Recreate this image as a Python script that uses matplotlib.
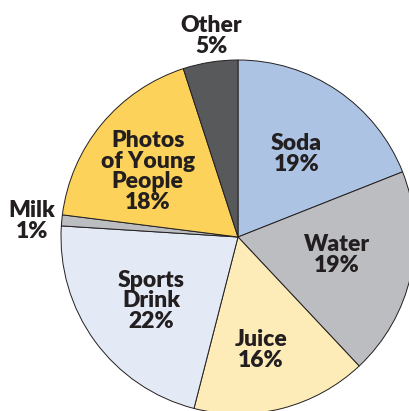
"""Pie chart: what teens drink / see, recreated with matplotlib."""

import matplotlib

matplotlib.use("Agg")
import matplotlib.pyplot as plt

# data (clockwise from 12 o'clock)
labels = ["Soda", "Water", "Juice", "Sports\nDrink", "Milk", "Photos\nof Young\nPeople", "Other"]
shares = [19, 19, 16, 22, 1, 18, 5]
colors = ["#adc3e3", "#bcbdc0", "#fdebb8", "#e3eaf6", "#bcbdc0", "#fcd25a", "#58595b"]

# label centres in data units (pie radius = 1)
label_pos = [
    (0.33, 0.47),
    (0.56, -0.10),
    (0.13, -0.64),
    (-0.49, -0.36),
    (-1.165, 0.09),
    (-0.51, 0.37),
    (-0.15, 1.135),
]

R_PX = 177.0
CX, CY = 238.0, 237.0
W, H = 410, 411

fig = plt.figure(figsize=(W / 100, H / 100), dpi=100)
ax = fig.add_axes([0, 0, 1, 1])
ax.pie(shares, colors=colors, startangle=90, counterclock=False, radius=1.0,
       wedgeprops={"edgecolor": "#231f20", "linewidth": 0.7})
ax.set_xlim(-CX / R_PX, (W - CX) / R_PX)
ax.set_ylim(-(H - CY) / R_PX, CY / R_PX)
ax.set_aspect("equal")
ax.axis("off")

for lab, val, (x, y) in zip(labels, shares, label_pos):
    ax.text(x, y, f"{lab}\n{val}%", ha="center", va="center", fontsize=16.5,
            fontweight="heavy", family="Lato", color="#231f20",
            linespacing=0.98)

fig.savefig("out.png", dpi=100)
